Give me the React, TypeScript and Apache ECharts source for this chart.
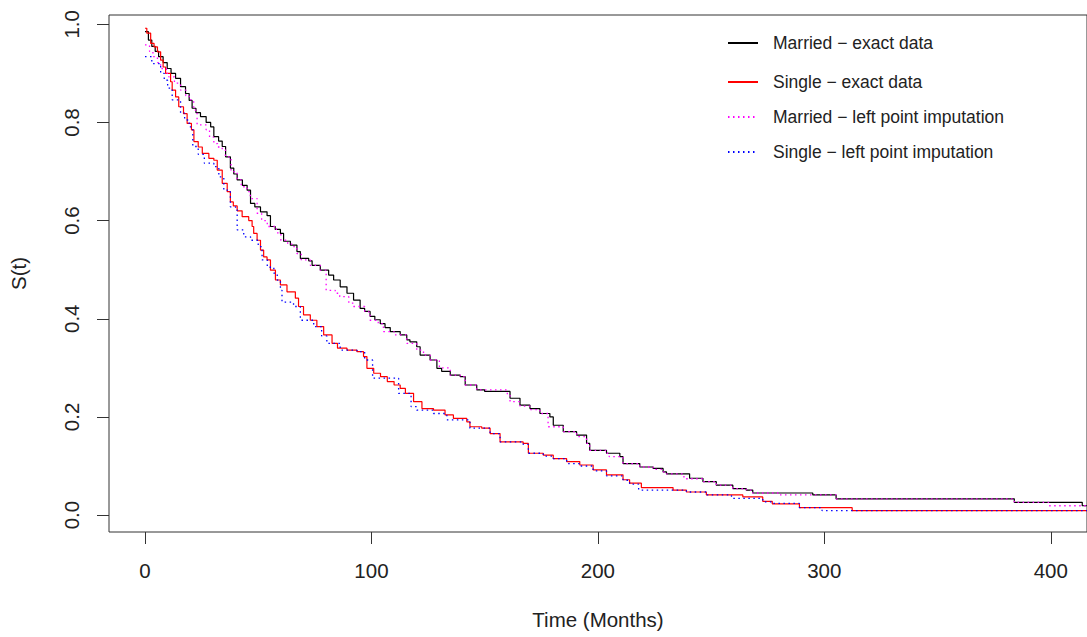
import React, { useEffect, useRef } from "react";
import * as echarts from "echarts";

const xTicks = [0, 100, 200, 300, 400];
const yTicks = [0, 0.2, 0.4, 0.6, 0.8, 1.0];
const seriesNames = [
  "Married − exact data",
  "Single − exact data",
  "Married − left point imputation",
  "Single − left point imputation",
];

// [time (months), S(t)] — Kaplan–Meier steps
const marriedExact: [number, number][] = [
  [0, 0.985], [1.5, 0.968], [3, 0.955], [4.5, 0.945], [6, 0.934], [8, 0.922], [9.8, 0.91], [11.5, 0.9],
  [13.5, 0.89], [15.7, 0.873], [17.9, 0.859], [19.5, 0.845], [20.8, 0.829], [22.5, 0.82], [24.5, 0.812],
  [27, 0.8], [29, 0.791], [30.4, 0.771], [32.5, 0.762], [34.1, 0.751], [35.6, 0.73], [37.7, 0.707],
  [39.2, 0.695], [40.7, 0.683], [43, 0.672], [45.1, 0.662], [46.6, 0.635], [48.5, 0.628], [51, 0.618],
  [53.9, 0.61], [55.4, 0.588], [57.5, 0.582], [59.8, 0.574], [61.2, 0.558], [64.2, 0.55], [67.1, 0.537],
  [68.6, 0.523], [72.3, 0.518], [73.8, 0.509], [77.4, 0.499], [81.1, 0.489], [83.3, 0.479], [86.2, 0.465],
  [89.2, 0.452], [92.1, 0.438], [95, 0.421], [97, 0.415], [99.4, 0.405], [101.5, 0.398], [103.9, 0.39],
  [106, 0.382], [108.3, 0.374], [112.7, 0.367], [115.6, 0.357], [117, 0.353], [120, 0.343], [121.5, 0.326],
  [125.9, 0.316], [128.9, 0.299], [131, 0.293], [134.8, 0.285], [139.2, 0.282], [141.4, 0.265],
  [146.5, 0.255], [150, 0.252], [161.2, 0.238], [165.6, 0.224], [170, 0.217], [174.4, 0.207],
  [178.8, 0.2], [180.3, 0.183], [184.7, 0.17], [190.6, 0.163], [195, 0.146], [196.4, 0.132],
  [203.8, 0.126], [209.7, 0.119], [211.1, 0.105], [218.5, 0.098], [224.4, 0.095], [228.8, 0.088],
  [230.3, 0.084], [240.5, 0.075], [246.4, 0.068], [252.3, 0.061], [259.6, 0.054], [265.5, 0.051],
  [268.4, 0.045], [294.9, 0.041], [305.2, 0.033], [383.9, 0.026], [413.9, 0.019], [420, 0.019],
];

const singleExact: [number, number][] = [
  [0, 0.992], [0.8, 0.982], [2.5, 0.961], [4, 0.954], [5.5, 0.944], [6.9, 0.927], [8, 0.913], [9.1, 0.9],
  [11.3, 0.883], [12, 0.866], [13.5, 0.852], [14.9, 0.832], [17, 0.818], [18.6, 0.798], [20.5, 0.785],
  [21.6, 0.761], [23.5, 0.75], [25.3, 0.737], [28.2, 0.727], [30.4, 0.723], [31.9, 0.703], [34.1, 0.676],
  [36.3, 0.659], [37.7, 0.638], [39, 0.63], [40.7, 0.62], [42.9, 0.608], [45.8, 0.6], [47.3, 0.588],
  [48, 0.574], [49.5, 0.56], [51, 0.54], [52.4, 0.526], [53.9, 0.52], [55.4, 0.499], [57.6, 0.479],
  [59.8, 0.469], [62.7, 0.455], [66.4, 0.442], [67.8, 0.425], [70, 0.408], [73, 0.397], [75.9, 0.384],
  [78.9, 0.367], [82.6, 0.35], [85, 0.34], [89.2, 0.336], [93.6, 0.333], [96.5, 0.323], [98, 0.299],
  [101, 0.289], [104, 0.282], [107, 0.272], [110, 0.265], [112.7, 0.258], [115, 0.248], [118.6, 0.231],
  [122.3, 0.217], [127.4, 0.214], [132.5, 0.204], [136.2, 0.197], [142.1, 0.19], [143.5, 0.18],
  [148.7, 0.177], [152.4, 0.166], [156.8, 0.149], [167, 0.146], [169.3, 0.126], [175.9, 0.122],
  [180.3, 0.115], [186.2, 0.109], [192, 0.102], [197.9, 0.092], [203.8, 0.082], [211.1, 0.072],
  [214, 0.065], [219.2, 0.056], [233.2, 0.051], [239.1, 0.047], [247.9, 0.041], [264, 0.037],
  [272.8, 0.028], [277, 0.023], [289, 0.015], [312.3, 0.009], [420, 0.009],
];

const marriedImputed: [number, number][] = [
  [0, 0.958], [2, 0.945], [3.5, 0.934], [5.5, 0.922], [6.9, 0.91], [9.5, 0.9], [10.5, 0.893], [13, 0.88],
  [15.7, 0.866], [18, 0.855], [19.5, 0.846], [21.5, 0.825], [23, 0.795], [27, 0.785], [28.5, 0.77],
  [30.4, 0.757], [32, 0.75], [34.1, 0.744], [35.5, 0.73], [38, 0.7], [40.7, 0.683], [42.5, 0.669],
  [45.1, 0.659], [46.5, 0.645], [49.5, 0.615], [51.5, 0.6], [54, 0.588], [58, 0.575], [60, 0.56],
  [63, 0.552], [65, 0.547], [67.1, 0.533], [69, 0.52], [73, 0.509], [77.4, 0.499], [80, 0.458],
  [84, 0.452], [86, 0.445], [90, 0.432], [92.1, 0.425], [97, 0.414], [99.4, 0.397], [103, 0.39],
  [105.3, 0.374], [110, 0.367], [115.6, 0.35], [120, 0.336], [123, 0.326], [125.9, 0.316], [130, 0.3],
  [134.8, 0.285], [139.2, 0.282], [141.4, 0.265], [146.5, 0.255], [160, 0.245], [161.2, 0.231],
  [165.6, 0.222], [170, 0.215], [174.4, 0.207], [178, 0.18], [184.7, 0.17], [190.6, 0.16], [195, 0.146],
  [196.4, 0.132], [203.8, 0.126], [205, 0.119], [211.1, 0.105], [218.5, 0.098], [224.4, 0.093],
  [228.8, 0.088], [230.3, 0.084], [238, 0.074], [246.4, 0.068], [252.3, 0.061], [259.6, 0.054],
  [265.5, 0.051], [268.4, 0.045], [280, 0.041], [305.2, 0.033], [383.9, 0.026], [399, 0.019], [420, 0.019],
];

const singleImputed: [number, number][] = [
  [0, 0.934], [3, 0.92], [6.9, 0.9], [8.5, 0.886], [10, 0.87], [12, 0.846], [15.7, 0.819], [17.5, 0.805],
  [19.5, 0.791], [21.1, 0.751], [23.5, 0.735], [26.2, 0.717], [30.4, 0.71], [32.6, 0.689], [34.8, 0.662],
  [37.7, 0.628], [40, 0.622], [40.7, 0.581], [43.6, 0.567], [46.6, 0.56], [50, 0.547], [51.7, 0.52],
  [54, 0.505], [56.9, 0.493], [58.4, 0.479], [59.8, 0.458], [60.5, 0.434], [65.6, 0.425], [68.6, 0.397],
  [74.5, 0.384], [78, 0.365], [80.3, 0.35], [86.2, 0.336], [93.6, 0.333], [97, 0.316], [100.5, 0.279],
  [112, 0.248], [117.5, 0.221], [120, 0.214], [127.4, 0.207], [133.3, 0.194], [143.5, 0.177],
  [152.4, 0.166], [156.8, 0.149], [167, 0.144], [169.3, 0.126], [175.9, 0.12], [180.3, 0.115],
  [186.2, 0.105], [192, 0.1], [197.9, 0.09], [203.8, 0.08], [211.1, 0.071], [214, 0.063], [218, 0.051],
  [239.1, 0.047], [247.9, 0.041], [259, 0.034], [272.8, 0.027], [277, 0.024], [289, 0.015], [299, 0.009],
  [420, 0.009],
];

const seriesData = [marriedExact, singleExact, marriedImputed, singleImputed];
const seriesColors = ["#000000", "#ff0000", "#ff00ff", "#0000ff"];
const seriesDotted = [false, false, true, true];

export default function App() {
  const ref = useRef<HTMLDivElement>(null);
  useEffect(() => {
    document.body.style.margin = "0";
    const chart = echarts.init(ref.current!, null, { renderer: "svg" });
    const font = "'Liberation Sans', Arial, Helvetica, sans-serif";
    const legendTops = [34, 73, 108, 143];
    chart.setOption({
      animation: false,
      backgroundColor: "#ffffff",
      textStyle: { fontFamily: font },
      grid: {
        left: 108,
        top: 15,
        right: -1,
        bottom: 105,
        show: true,
        borderColor: "#333333",
        borderWidth: 1,
      },
      legend: seriesNames.map((n, i) => ({
        data: [n],
        left: 727,
        top: legendTops[i],
        padding: 0,
        itemWidth: 30,
        itemHeight: 20,
        selectedMode: false,
        itemStyle: { opacity: 0 },
        textStyle: { fontFamily: font, fontSize: 17.5, color: "#222222", padding: [0, 0, 0, 10] },
      })),
      xAxis: {
        type: "value",
        min: -15.9,
        max: 416,
        name: "Time (Months)",
        nameLocation: "middle",
        nameGap: 77,
        nameTextStyle: { fontFamily: font, fontSize: 20.5, color: "#222222" },
        axisLine: { show: false, onZero: false },
        axisTick: {
          show: true,
          customValues: xTicks,
          length: 12,
          lineStyle: { color: "#333333" },
        },
        axisLabel: {
          customValues: xTicks,
          margin: 28,
          fontSize: 20.5,
          color: "#222222",
          fontFamily: font,
        },
        splitLine: { show: false },
      },
      yAxis: {
        type: "value",
        min: -0.0345,
        max: 1.019,
        name: "S(t)",
        nameLocation: "middle",
        nameGap: 80,
        nameTextStyle: { fontFamily: font, fontSize: 20.5, color: "#222222" },
        axisLine: { show: false, onZero: false },
        axisTick: {
          show: true,
          customValues: yTicks,
          length: 12,
          lineStyle: { color: "#333333" },
        },
        axisLabel: {
          customValues: yTicks,
          rotate: 90,
          margin: 27,
          fontSize: 20.5,
          color: "#222222",
          fontFamily: font,
          formatter: (v: number) => v.toFixed(1),
        },
        splitLine: { show: false },
      },
      series: seriesData.map((d, i) => ({
        name: seriesNames[i],
        type: "line",
        step: "end",
        symbol: "none",
        silent: true,
        data: d,
        z: seriesDotted[i] ? 3 : 2,
        lineStyle: {
          color: seriesColors[i],
          width: seriesDotted[i] ? 1.3 : 1.2,
          type: seriesDotted[i] ? [1.5, 3.5] : "solid",
        },
        itemStyle: { color: seriesColors[i] },
      })),
    });
    return () => chart.dispose();
  }, []);
  return <div ref={ref} style={{ width: 1087, height: 637 }} />;
}
